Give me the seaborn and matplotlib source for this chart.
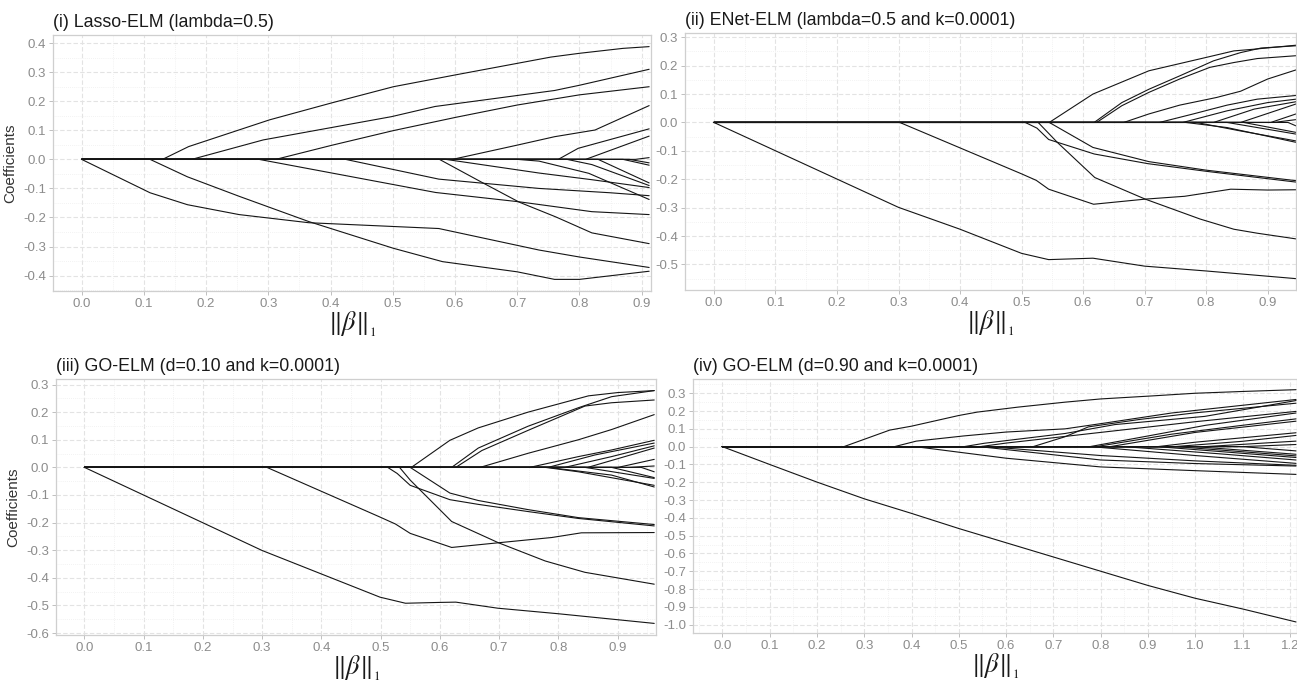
import matplotlib
matplotlib.use('Agg')
import matplotlib.pyplot as plt
import seaborn as sns
import pandas as pd
from matplotlib.ticker import MultipleLocator, FormatStrFormatter

# Coefficient paths: each path = (entry point, knots...),
# every coefficient sits at 0 from ||beta||_1 = 0 until its entry point.
lasso_paths = [
    [(0.13, 0), (0.172, 0.044), (0.302, 0.136), (0.403, 0.195), (0.501, 0.25), (0.599, 0.29),
     (0.754, 0.352), (0.80, 0.365), (0.87, 0.382), (0.912, 0.388)],
    [(0.177, 0), (0.292, 0.067), (0.498, 0.147), (0.568, 0.182), (0.76, 0.237), (0.80, 0.255), (0.912, 0.31)],
    [(0.312, 0), (0.403, 0.049), (0.501, 0.099), (0.602, 0.145), (0.70, 0.187), (0.80, 0.222), (0.912, 0.25)],
    [(0.596, 0), (0.70, 0.049), (0.76, 0.078), (0.825, 0.101), (0.912, 0.185)],
    [(0.766, 0), (0.798, 0.038), (0.912, 0.105)],
    [(0.81, 0), (0.912, 0.08)],
    [(0.89, 0), (0.912, 0.006)],
    [(0.0, 0), (0.11, -0.115), (0.17, -0.156), (0.253, -0.19), (0.365, -0.218), (0.574, -0.238),
     (0.735, -0.312), (0.80, -0.336), (0.912, -0.372)],
    [(0.11, 0), (0.17, -0.06), (0.253, -0.127), (0.365, -0.214), (0.501, -0.306), (0.58, -0.352),
     (0.70, -0.387), (0.76, -0.413), (0.80, -0.413), (0.912, -0.385)],
    [(0.285, 0), (0.569, -0.114), (0.703, -0.146), (0.82, -0.18), (0.912, -0.19)],
    [(0.424, 0), (0.574, -0.068), (0.735, -0.1), (0.85, -0.115), (0.912, -0.125)],
    [(0.575, 0), (0.644, -0.08), (0.703, -0.147), (0.762, -0.198), (0.82, -0.253), (0.912, -0.29)],
    [(0.585, 0), (0.735, -0.047), (0.82, -0.07), (0.912, -0.097)],
    [(0.70, 0), (0.735, -0.006), (0.815, -0.048), (0.912, -0.138)],
    [(0.78, 0), (0.82, -0.018), (0.912, -0.09)],
    [(0.83, 0), (0.912, -0.081)],
    [(0.87, 0), (0.912, -0.02)],
    [(0.88, 0), (0.912, -0.012)],
]

enet_paths = [
    [(0.0, 0), (0.3, -0.299), (0.4, -0.376), (0.5, -0.461), (0.544, -0.483), (0.616, -0.478),
     (0.70, -0.506), (0.80, -0.523), (0.946, -0.55)],
    [(0.302, 0), (0.5, -0.181), (0.524, -0.204), (0.544, -0.235), (0.617, -0.288), (0.701, -0.27),
     (0.765, -0.26), (0.84, -0.235), (0.90, -0.238), (0.946, -0.237)],
    [(0.506, 0), (0.525, -0.02), (0.544, -0.06), (0.618, -0.111), (0.705, -0.145), (0.80, -0.172), (0.946, -0.21)],
    [(0.527, 0), (0.558, -0.07), (0.619, -0.194), (0.701, -0.27), (0.79, -0.34), (0.845, -0.376),
     (0.883, -0.39), (0.946, -0.41)],
    [(0.545, 0), (0.616, -0.088), (0.707, -0.138), (0.80, -0.168), (0.946, -0.205)],
    [(0.545, 0), (0.616, 0.1), (0.707, 0.182), (0.80, 0.229), (0.845, 0.252), (0.878, 0.258), (0.946, 0.272)],
    [(0.618, 0), (0.663, 0.07), (0.707, 0.117), (0.757, 0.164), (0.812, 0.217), (0.856, 0.246),
     (0.889, 0.262), (0.946, 0.27)],
    [(0.622, 0), (0.663, 0.059), (0.707, 0.106), (0.757, 0.153), (0.806, 0.194), (0.845, 0.211),
     (0.883, 0.225), (0.946, 0.235)],
    [(0.666, 0), (0.707, 0.03), (0.757, 0.061), (0.817, 0.088), (0.856, 0.11), (0.90, 0.153), (0.946, 0.185)],
    [(0.724, 0), (0.779, 0.03), (0.834, 0.061), (0.883, 0.082), (0.946, 0.095)],
    [(0.762, 0), (0.834, 0.041), (0.90, 0.07), (0.946, 0.082)],
    [(0.812, 0), (0.878, 0.047), (0.946, 0.073)],
    [(0.856, 0), (0.946, 0.065)],
    [(0.905, 0), (0.946, 0.03)],
    [(0.91, 0), (0.946, 0.01)],
    [(0.767, 0), (0.834, -0.018), (0.946, -0.07)],
    [(0.784, 0), (0.856, -0.03), (0.946, -0.065)],
    [(0.834, 0), (0.946, -0.041)],
    [(0.861, 0), (0.946, -0.035)],
    [(0.933, 0), (0.946, -0.012)],
]

go10_paths = [
    [(0.0, 0), (0.300, -0.301), (0.499, -0.47), (0.542, -0.492), (0.60, -0.489), (0.627, -0.488),
     (0.698, -0.51), (0.80, -0.53), (0.962, -0.565)],
    [(0.308, 0), (0.497, -0.178), (0.525, -0.205), (0.55, -0.239), (0.62, -0.29), (0.699, -0.273),
     (0.789, -0.254), (0.839, -0.237), (0.962, -0.236)],
    [(0.512, 0), (0.528, -0.022), (0.55, -0.065), (0.617, -0.117), (0.665, -0.134), (0.749, -0.16),
     (0.834, -0.185), (0.962, -0.212)],
    [(0.532, 0), (0.55, -0.046), (0.62, -0.196), (0.699, -0.273), (0.778, -0.339), (0.845, -0.38), (0.962, -0.423)],
    [(0.55, 0), (0.617, -0.093), (0.665, -0.12), (0.749, -0.153), (0.834, -0.182), (0.962, -0.207)],
    [(0.552, 0), (0.617, 0.098), (0.665, 0.143), (0.749, 0.2), (0.851, 0.259), (0.901, 0.271), (0.962, 0.278)],
    [(0.62, 0), (0.665, 0.07), (0.749, 0.149), (0.834, 0.216), (0.89, 0.256), (0.962, 0.278)],
    [(0.627, 0), (0.671, 0.061), (0.749, 0.134), (0.845, 0.222), (0.89, 0.234), (0.962, 0.244)],
    [(0.668, 0), (0.749, 0.051), (0.834, 0.1), (0.89, 0.137), (0.962, 0.191)],
    [(0.752, 0), (0.834, 0.039), (0.89, 0.063), (0.962, 0.098)],
    [(0.783, 0), (0.862, 0.045), (0.962, 0.088)],
    [(0.811, 0), (0.89, 0.039), (0.962, 0.078)],
    [(0.85, 0), (0.962, 0.07)],
    [(0.901, 0), (0.962, 0.029)],
    [(0.92, 0), (0.962, 0.005)],
    [(0.778, 0), (0.834, -0.016), (0.962, -0.065)],
    [(0.783, 0), (0.89, -0.028), (0.962, -0.071)],
    [(0.845, 0), (0.962, -0.04)],
    [(0.89, 0), (0.962, -0.037)],
    [(0.94, 0), (0.962, -0.016)],
]

go90_paths = [
    [(0.0, 0), (0.1, -0.1), (0.2, -0.199), (0.3, -0.293), (0.4, -0.375), (0.5, -0.46), (0.6, -0.54),
     (0.7, -0.62), (0.8, -0.70), (0.9, -0.78), (1.0, -0.852), (1.1, -0.912), (1.213, -0.985)],
    [(0.257, 0), (0.354, 0.093), (0.40, 0.115), (0.5, 0.175), (0.539, 0.194), (0.625, 0.222),
     (0.725, 0.25), (0.8, 0.268), (0.909, 0.285), (1.0, 0.3), (1.1, 0.31), (1.213, 0.32)],
    [(0.364, 0), (0.41, 0.031), (0.51, 0.06), (0.6, 0.082), (0.725, 0.1), (0.81, 0.133), (0.95, 0.189), (1.213, 0.265)],
    [(0.511, 0), (0.554, 0.019), (0.725, 0.074), (0.83, 0.124), (1.02, 0.17), (1.213, 0.259)],
    [(0.545, 0), (0.6, 0.02), (0.8, 0.08), (1.0, 0.14), (1.213, 0.198)],
    [(0.657, 0), (0.725, 0.056), (0.774, 0.111), (0.88, 0.152), (1.0, 0.19), (1.213, 0.244)],
    [(0.777, 0), (0.9, 0.06), (1.022, 0.12), (1.213, 0.189)],
    [(0.79, 0), (0.95, 0.07), (1.1, 0.12), (1.213, 0.156)],
    [(0.82, 0), (1.0, 0.08), (1.213, 0.143)],
    [(0.92, 0), (1.0, 0.025), (1.213, 0.078)],
    [(0.955, 0), (1.1, 0.03), (1.213, 0.063)],
    [(1.02, 0), (1.213, 0.031)],
    [(1.1, 0), (1.213, 0.012)],
    [(0.408, 0), (0.6, -0.065), (0.8, -0.114), (1.0, -0.135), (1.213, -0.156)],
    [(0.544, 0), (0.8, -0.075), (1.0, -0.095), (1.213, -0.109)],
    [(0.56, 0), (0.8, -0.05), (1.0, -0.08), (1.213, -0.105)],
    [(0.78, 0), (1.0, -0.05), (1.213, -0.094)],
    [(0.85, 0), (1.05, -0.04), (1.213, -0.075)],
    [(0.92, 0), (1.213, -0.061)],
    [(0.96, 0), (1.213, -0.052)],
    [(1.0, 0), (1.213, -0.043)],
    [(1.1, 0), (1.213, -0.024)],
]

titles = ['(i) Lasso-ELM (lambda=0.5)', '(ii) ENet-ELM (lambda=0.5 and k=0.0001)',
          '(iii) GO-ELM (d=0.10 and k=0.0001)', '(iv) GO-ELM (d=0.90 and k=0.0001)']
x_limits = [(-0.046, 0.915), (-0.047, 0.946), (-0.048, 0.965), (-0.062, 1.215)]
y_limits = [(-0.453, 0.428), (-0.59, 0.315), (-0.607, 0.32), (-1.047, 0.38)]
y_labels = ['Coefficients', '', 'Coefficients', '']

sns.set_theme(style='white')
plt.rcParams['font.family'] = ['Liberation Sans Narrow', 'Liberation Sans', 'DejaVu Sans']
plt.rcParams['axes.unicode_minus'] = False
plt.rcParams['mathtext.fontset'] = 'stix'

W, H = 1297, 688
fig = plt.figure(figsize=(W / 100, H / 100), dpi=100)

# panel boxes in pixels: left, right, top, bottom
boxes = [(53, 651, 35, 291), (685, 1296, 33, 290), (56, 656, 379, 635), (693, 1297, 379, 633)]

for k, paths in enumerate([lasso_paths, enet_paths, go10_paths, go90_paths]):
    l, r, t, b = boxes[k]
    ax = fig.add_axes([l / W, 1 - b / H, (r - l) / W, (b - t) / H])

    rows = []
    for i, path in enumerate(paths):
        pts = path if path[0][0] == 0 else [(0.0, 0.0)] + path
        for x, y in pts:
            rows.append({'path': i, 'norm': x, 'coef': y})
    df = pd.DataFrame(rows)

    sns.lineplot(data=df, x='norm', y='coef', units='path', estimator=None, sort=False,
                 color='#151515', linewidth=0.8, ax=ax, legend=False)

    ax.set_xlim(*x_limits[k])
    ax.set_ylim(*y_limits[k])
    ax.xaxis.set_major_locator(MultipleLocator(0.1))
    ax.xaxis.set_minor_locator(MultipleLocator(0.05))
    ax.yaxis.set_major_locator(MultipleLocator(0.1))
    ax.yaxis.set_minor_locator(MultipleLocator(0.05))
    ax.xaxis.set_major_formatter(FormatStrFormatter('%.1f'))
    ax.yaxis.set_major_formatter(FormatStrFormatter('%.1f'))

    ax.set_axisbelow(True)
    ax.grid(which='major', color='#e3e3e3', linestyle=(0, (4, 2)), linewidth=0.8)
    ax.grid(which='minor', color='#eeeeee', linestyle=(0, (1, 1.5)), linewidth=0.6)
    for s in ax.spines.values():
        s.set_color('#cfcfcf')
        s.set_linewidth(0.9)
    ax.tick_params(which='major', length=3, width=0.6, color='#b5b5b5', labelcolor='#8c8c8c',
                   labelsize=9.5, pad=2, left=True, bottom=True)
    ax.tick_params(which='minor', length=0)

    ax.set_title(titles[k], loc='left', fontsize=12.8, color='#1a1a1a', pad=6,
                 family=['Liberation Sans', 'DejaVu Sans'])
    ax.set_xlabel(r'$\Vert\beta\Vert_{_1}$', fontsize=19, color='#1a1a1a', labelpad=0)
    ax.set_ylabel(y_labels[k], fontsize=11, color='#333333', labelpad=4,
                  family=['Liberation Sans', 'DejaVu Sans'])

fig.savefig('out.png', dpi=100)
